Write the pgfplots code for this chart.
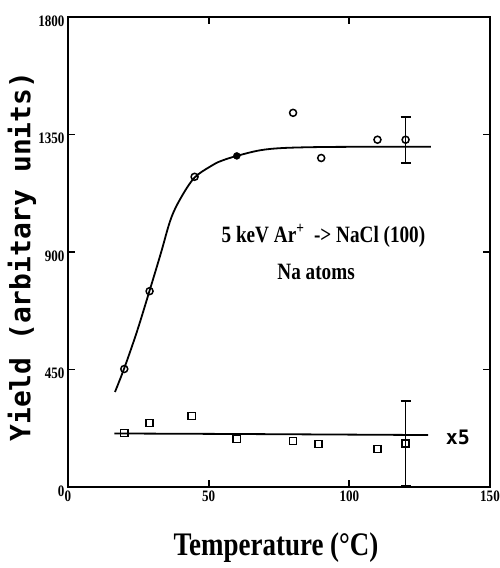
\documentclass[border=0pt]{standalone}
\usepackage{fontspec}
\usepackage{pgfplots}
\pgfplotsset{compat=1.18}
\setmainfont{Liberation Serif}
\newfontfamily\condserif[FakeStretch=0.82]{Liberation Serif}
\newfontfamily\monosans{DejaVu Sans Mono}

% open circles (yield)
\pgfplotstableread{
T   Y
20  452
29  750
45  1188
80  1433
90  1260
110 1330
}\circles
% open squares (x5)
\pgfplotstableread{
T   Y
20  207
29  245
44  272
60  184
80  176
89  165
110 146
}\squares

\begin{document}
\begin{tikzpicture}
% fixed page: axis box sits at (0,0)-(422bp,470bp)
\path[use as bounding box] (-68bp,-81bp) rectangle (432bp,487bp);
\begin{axis}[
  at={(0,0)}, anchor=south west,
  scale only axis, width=422bp, height=470bp,
  xmin=0, xmax=150, ymin=0, ymax=1800,
  xtick={0,50,100,150}, ytick={0,450,900,1350,1800},
  major tick length=7bp,
  every tick/.append style={line width=1.8bp, black},
  axis line style={line width=2.6bp, black},
  tick label style={font=\condserif\bfseries\fontsize{16}{16}\selectfont,
    /pgf/number format/assume math mode=true,
    /pgf/number format/1000 sep={}},
  yticklabel style={yshift=-4bp},
  xlabel={Temperature (°C)},
  xlabel style={font=\condserif\bfseries\fontsize{33}{33}\selectfont,
    at={(axis description cs:0.493,-0.128)}, anchor=center},
  ylabel={Yield (arbitary units)},
  ylabel style={font=\monosans\bfseries\fontsize{28}{28}\selectfont,
    at={(axis description cs:-0.109,0.49)}, anchor=center},
  clip=false,
]
% frame and inward ticks, drawn as plain paths in axis units
\addplot[line width=2.6bp, line join=miter] coordinates {
  (0,0) (150,0) (150,1800) (0,1800) (0,0)} -- cycle;
\addplot[line width=1.8bp] coordinates {(50,0) (50,27)};
\addplot[line width=1.8bp] coordinates {(100,0) (100,27)};
\addplot[line width=1.8bp] coordinates {(50,1800) (50,1773)};
\addplot[line width=1.8bp] coordinates {(100,1800) (100,1773)};
\addplot[line width=1.8bp] coordinates {(0,450) (2.5,450)};
\addplot[line width=1.8bp] coordinates {(0,900) (2.5,900)};
\addplot[line width=1.8bp] coordinates {(0,1350) (2.5,1350)};
\addplot[line width=1.8bp] coordinates {(150,450) (147.5,450)};
\addplot[line width=1.8bp] coordinates {(150,900) (147.5,900)};
\addplot[line width=1.8bp] coordinates {(150,1350) (147.5,1350)};

% fitted curves
\addplot[line width=1.8bp, smooth, tension=0.55] coordinates {
  (16.7,364) (20,455) (24.5,595) (29,752) (33,895) (36.5,1025)
  (40,1105) (45,1185) (51.6,1234) (55,1251)
  (60,1268) (68,1289) (76,1298) (90,1302) (110,1303) (129,1303)};
\addplot[line width=1.8bp] coordinates {(16.5,205) (60,203) (128,199)};

% data
\addplot[only marks, mark=o, mark size=3.5bp,
  mark options={line width=1.5bp, fill=white}] table[x=T, y=Y] {\circles};
\addplot[only marks, mark=*, mark size=3.5bp] coordinates {(60,1268)};
\addplot[only marks, mark=o, mark size=3.5bp,
  mark options={line width=1.5bp, fill=white},
  error bars/.cd, y dir=both, y explicit,
  error bar style={line width=1.5bp},
  error mark options={rotate=90, line width=1.8bp, mark size=5bp}]
  coordinates {(120,1330) +- (0,88)};
\addplot[only marks, mark=square, mark size=3.6bp,
  mark options={line width=1.5bp, fill=white}] table[x=T, y=Y] {\squares};
\addplot[only marks, mark=square, mark size=3.6bp,
  mark options={line width=1.5bp, fill=white},
  error bars/.cd, y dir=both, y explicit,
  error bar style={line width=1.5bp},
  error mark options={rotate=90, line width=1.8bp, mark size=5bp}]
  coordinates {(120,167) +- (0,162)};

% annotations
\node[font=\condserif\bfseries\fontsize{23.5}{23.5}\selectfont] at (axis cs:90.8,961)
  {5 keV Ar\textsuperscript{+}\ \ -> NaCl (100)};
\node[font=\condserif\bfseries\fontsize{23.5}{23.5}\selectfont] at (axis cs:88.2,823)
  {Na atoms};
\node[font=\monosans\bfseries\fontsize{20}{20}\selectfont] at (axis cs:138.6,191) {x5};
\end{axis}
\end{tikzpicture}
\end{document}
